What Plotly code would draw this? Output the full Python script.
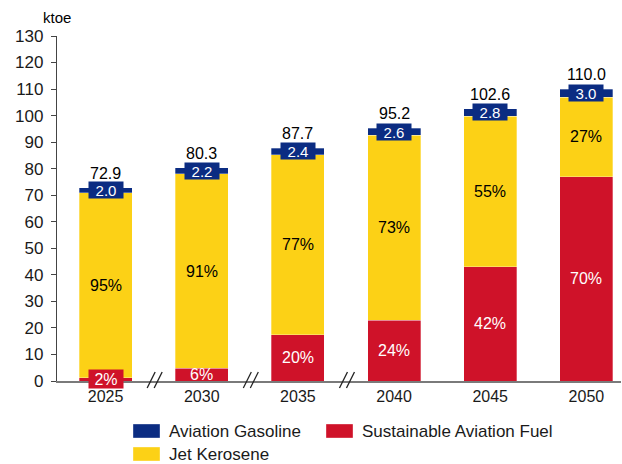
import plotly.graph_objects as go

# ---- data ----
years = ["2025", "2030", "2035", "2040", "2045", "2050"]
saf = [1.2, 4.8, 17.5, 22.8, 43.1, 77.0]          # Sustainable Aviation Fuel
jet = [69.7, 73.3, 67.8, 69.8, 56.7, 30.0]        # Jet Kerosene
gas = [2.0, 2.2, 2.4, 2.6, 2.8, 3.0]              # Aviation Gasoline
totals = [72.9, 80.3, 87.7, 95.2, 102.6, 110.0]
saf_pct = ["2%", "6%", "20%", "24%", "42%", "70%"]
jet_pct = ["95%", "91%", "77%", "73%", "55%", "27%"]
y_ticks = list(range(0, 131, 10))
break_positions = [0.5, 1.5, 2.5]

# ---- style ----
NAVY = "#0B2C82"
RED = "#CF1229"
YELLOW = "#FCD116"
FONT = "Liberation Sans, Arial, sans-serif"
W, H = 622, 464
L, R, T, B = 57, 1, 36, 83
XMIN, XMAX = -0.505, 5.36
PW, PH = W - L - R, H - T - B
pos = list(range(len(years)))


def px_x(px):
    return (px - L) / PW


def px_y(py):
    return (H - B - py) / PH


def cat_px(p):
    return L + (p - XMIN) / (XMAX - XMIN) * PW


edge = dict(color="rgba(255,255,255,0.5)", width=0.6)
fig = go.Figure()
fig.add_trace(go.Bar(x=pos, y=saf, name="Sustainable Aviation Fuel", width=0.55,
                     marker=dict(color=RED, line=edge), showlegend=False, hoverinfo="skip"))
fig.add_trace(go.Bar(x=pos, y=jet, name="Jet Kerosene", width=0.55,
                     marker=dict(color=YELLOW, line=edge), showlegend=False, hoverinfo="skip"))
fig.add_trace(go.Bar(x=pos, y=gas, name="Aviation Gasoline", width=0.55,
                     marker=dict(color=NAVY, line=edge), showlegend=False, hoverinfo="skip"))

ann = []
for i in pos:
    a = dict(x=i, y=saf[i] / 2, text=saf_pct[i], showarrow=False,
             font=dict(family=FONT, size=16, color="white"))
    if saf[i] < 3:
        a.update(bgcolor=RED, width=32, height=16)
    ann.append(a)
    ann.append(dict(x=i, y=saf[i] + jet[i] / 2, text=jet_pct[i], showarrow=False,
                    font=dict(family=FONT, size=16, color="black")))
    ann.append(dict(x=i, y=saf[i] + jet[i] + gas[i] / 2, text=f"{gas[i]:.1f}", showarrow=False,
                    bgcolor=NAVY, width=32, height=14,
                    font=dict(family=FONT, size=15, color="white")))
    ann.append(dict(x=i, y=totals[i], text=f"{totals[i]:.1f}", showarrow=False,
                    yanchor="bottom", yshift=4,
                    font=dict(family=FONT, size=16, color="black")))

ann.append(dict(xref="paper", yref="paper", x=px_x(57), y=px_y(17), text="ktoe",
                showarrow=False, xanchor="center", yanchor="middle",
                font=dict(family=FONT, size=15, color="black")))

shapes = []
for p in break_positions:
    cx = cat_px(p)
    for dx in (-6.5, 0.5):
        shapes.append(dict(type="line", xref="paper", yref="paper",
                           x0=px_x(cx + dx), y0=px_y(388), x1=px_x(cx + dx + 8), y1=px_y(372),
                           line=dict(color="#222222", width=1.3)))

legend_items = [("Aviation Gasoline", NAVY, 133, 431),
                ("Sustainable Aviation Fuel", RED, 326, 431),
                ("Jet Kerosene", YELLOW, 133, 454)]
for name, col, x0, yc in legend_items:
    shapes.append(dict(type="rect", xref="paper", yref="paper",
                       x0=px_x(x0), x1=px_x(x0 + 27), y0=px_y(yc + 7), y1=px_y(yc - 7),
                       fillcolor=col, line=dict(color="rgba(255,255,255,0.6)", width=0.6)))
    ann.append(dict(xref="paper", yref="paper", x=px_x(x0 + 34), y=px_y(yc), text=name,
                    showarrow=False, xanchor="left", yanchor="middle",
                    font=dict(family=FONT, size=17, color="#1a1a1a")))

fig.update_layout(
    width=W, height=H,
    margin=dict(l=L, r=R, t=T, b=B),
    barmode="stack",
    plot_bgcolor="white", paper_bgcolor="white",
    font=dict(family=FONT, size=16, color="#1a1a1a"),
    showlegend=False,
    annotations=ann, shapes=shapes,
    xaxis=dict(range=[XMIN, XMAX], tickvals=pos, ticktext=years, showline=True,
               linecolor="#7a7a7a", linewidth=2, ticks="", showgrid=False, zeroline=False,
               tickfont=dict(family=FONT, size=16, color="#1a1a1a")),
    yaxis=dict(range=[0, 130], tickvals=y_ticks, ticks="outside", ticklen=5,
               tickcolor="#444444", tickwidth=1.3, showline=True, linecolor="#444444",
               linewidth=1.3, showgrid=False, zeroline=False, ticklabelstandoff=4,
               tickfont=dict(family=FONT, size=17, color="#1a1a1a")),
)

fig.write_html("out.html", post_script="document.body.style.margin='0px';",
               config={"displayModeBar": False})
